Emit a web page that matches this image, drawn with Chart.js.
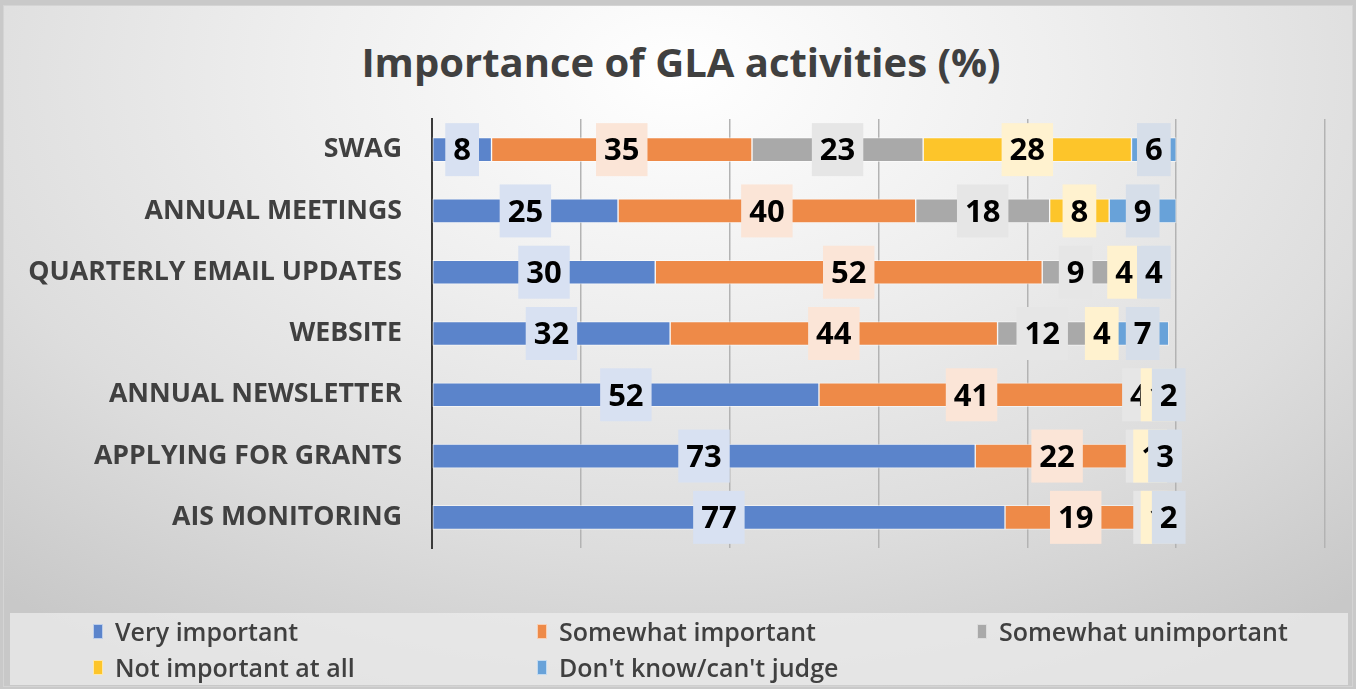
<!DOCTYPE html>
<html>
<head>
<meta charset="utf-8">
<title>Importance of GLA activities (%)</title>
<script src="https://cdn.jsdelivr.net/npm/chart.js@4.4.1/dist/chart.umd.min.js"></script>
<style>
  html, body { margin: 0; padding: 0; width: 1356px; height: 689px; overflow: hidden; background: #c9c9c9; }
  #card {
    position: absolute; left: 3px; top: 5px; width: 1348px; height: 680px;
    background: radial-gradient(ellipse 78% 100% at 50% 10%, #ffffff 0%, #efefef 35%, #dddddd 70%, #c8c8c8 100%);
    border: 1px solid #d4d4d4;
  }
  #chart-title {
    position: absolute; left: 0; top: 38px; width: 1362px; line-height: 48px; text-align: center;
    font-family: "Open Sans", sans-serif; font-size: 40px; font-weight: bold; color: #404040;
  }
  #chart-wrap { position: absolute; left: 0; top: 0; width: 1356px; height: 689px; }
  #legend {
    position: absolute; left: 10px; top: 613px; width: 1338px; height: 72px;
    background: rgba(236, 236, 236, 0.75);
    display: grid; grid-template-columns: 444px 440px 440px; grid-auto-rows: 36px;
    padding-left: 83px; box-sizing: border-box;
    font-family: "Open Sans", sans-serif; font-size: 25px; font-weight: 600; color: #404040;
  }
  #legend .item { display: flex; align-items: center; white-space: nowrap; }
  #legend .swatch { width: 10px; height: 15px; margin-right: 12px; box-sizing: border-box; border: 1px solid rgba(255,255,255,0.6); }
</style>
</head>
<body>
<div id="card"></div>
<div id="chart-title">Importance of GLA activities (%)</div>
<div id="chart-wrap"><canvas id="gla-chart"></canvas></div>
<div id="legend"></div>
<script>
  const activities = [
    "SWAG",
    "ANNUAL MEETINGS",
    "QUARTERLY EMAIL UPDATES",
    "WEBSITE",
    "ANNUAL NEWSLETTER",
    "APPLYING FOR GRANTS",
    "AIS MONITORING",
  ];
  const veryImportant = [8, 25, 30, 32, 52, 73, 77];
  const somewhatImportant = [35, 40, 52, 44, 41, 22, 19];
  const somewhatUnimportant = [23, 18, 9, 12, 4, 1, 1];
  const notImportantAtAll = [28, 8, 4, 4, 1, 1, 1];
  const dontKnow = [6, 9, 4, 7, 2, 3, 2];
  const axisMin = 0;
  const axisMax = 120;
  const axisStep = 20;

  const series = [
    { label: "Very important", data: veryImportant, color: "#5b84cb", labelFill: "#d8e1f2" },
    { label: "Somewhat important", data: somewhatImportant, color: "#ee8a48", labelFill: "#fbe5d7" },
    { label: "Somewhat unimportant", data: somewhatUnimportant, color: "#a9a9a9", labelFill: "#e6e6e6" },
    { label: "Not important at all", data: notImportantAtAll, color: "#fdc52a", labelFill: "#fff2cf" },
    { label: "Don't know/can't judge", data: dontKnow, color: "#68a2d9", labelFill: "#d6dee9" },
  ];

  // value boxes painted over the segments, in series order
  const valueBoxes = {
    id: "valueBoxes",
    afterDatasetsDraw(chart) {
      const ctx = chart.ctx;
      ctx.save();
      ctx.font = "bold 31px 'Open Sans', sans-serif";
      ctx.textAlign = "center";
      ctx.textBaseline = "middle";
      chart.data.datasets.forEach((ds, i) => {
        const meta = chart.getDatasetMeta(i);
        meta.data.forEach((bar, j) => {
          const text = String(ds.data[j]);
          const cx = (bar.x + bar.base) / 2;
          const w = ctx.measureText(text).width + 16;
          const h = 53;
          ctx.fillStyle = ds.labelFill;
          ctx.fillRect(cx - w / 2, bar.y - h / 2, w, h);
          ctx.fillStyle = "#000000";
          ctx.fillText(text, cx, bar.y + 2);
        });
      });
      ctx.restore();
    },
  };

  const ctx = document.getElementById("gla-chart").getContext("2d");
  new Chart(ctx, {
    type: "bar",
    data: {
      labels: activities,
      datasets: series.map((s) => ({
        label: s.label,
        data: s.data,
        backgroundColor: s.color,
        borderColor: "rgba(255,255,255,0.55)",
        borderWidth: 1,
        borderSkipped: false,
        barThickness: 24,
        labelFill: s.labelFill,
      })),
    },
    options: {
      indexAxis: "y",
      responsive: true,
      maintainAspectRatio: false,
      animation: false,
      layout: { padding: { left: 0, right: 31, top: 119, bottom: 141 } },
      plugins: {
        legend: { display: false },
        tooltip: { enabled: false },
        title: { display: false },
      },
      scales: {
        x: {
          stacked: true,
          min: axisMin,
          max: axisMax,
          ticks: { display: false, stepSize: axisStep },
          grid: { color: "#b3b3b3", lineWidth: 1.5, drawTicks: false },
          border: { display: false },
          afterFit(scale) { scale.height = 0; },
        },
        y: {
          stacked: true,
          grid: { display: false, drawTicks: false },
          border: { display: true, color: "#3a3a3a", width: 2 },
          ticks: {
            padding: 30,
            color: "#404040",
            font: { family: "'Open Sans', sans-serif", size: 26.7, weight: "bold" },
          },
          afterFit(scale) { scale.width = 432; },
        },
      },
    },
    plugins: [valueBoxes],
  });

  const legendEl = document.getElementById("legend");
  series.forEach((s) => {
    const item = document.createElement("div");
    item.className = "item";
    item.innerHTML = `<span class="swatch" style="background:${s.color}"></span><span>${s.label}</span>`;
    legendEl.appendChild(item);
  });
</script>
</body>
</html>
